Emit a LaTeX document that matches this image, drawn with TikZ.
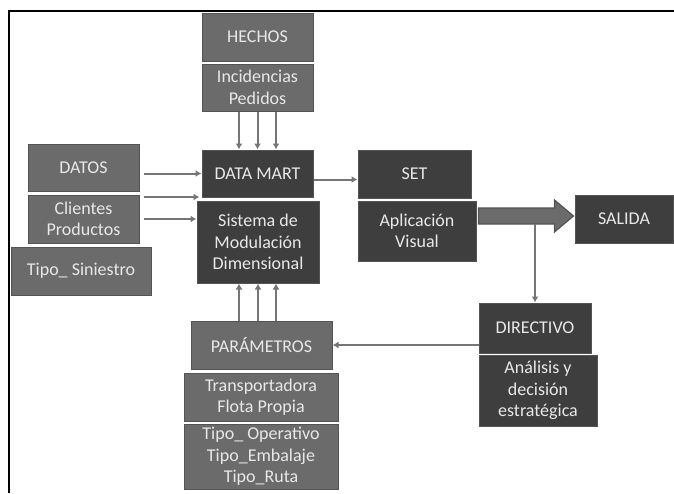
\documentclass[tikz,border=0pt]{standalone}
\usepackage{fontspec}
\setmainfont{Carlito}
\usepackage{tikz}
\usetikzlibrary{arrows.meta,positioning,calc}
\definecolor{boxdark}{HTML}{3E3E3E}
\definecolor{boxmid}{HTML}{6B6B6B}
\definecolor{edgegray}{HTML}{545454}
\definecolor{linegray}{HTML}{767676}
\definecolor{textlight}{HTML}{E8E8E8}
\tikzset{
  darkbox/.style={draw=edgegray,fill=boxdark,line width=1pt,align=center,inner sep=2pt,text=textlight,font=\fontsize{18}{21.5}\selectfont},
  midbox/.style={draw=edgegray,fill=boxmid,line width=1pt,align=center,inner sep=2pt,text=textlight,font=\fontsize{18}{21.5}\selectfont},
  flow/.style={-{Latex[length=6pt,width=7pt]},line width=2pt,draw=linegray},
  blockarrow/.style={draw=edgegray,fill=boxmid,line width=1.2pt,line join=miter},
  frameline/.style={line width=2pt,draw=black},
}

\begin{document}
\begin{tikzpicture}[x=1pt,y=-1pt]
    \useasboundingbox (0,0) rectangle (674,493);
    \draw[frameline] (9,493) -- (9,11) -- (674,11);
    % hechos y data mart
    \node[midbox,minimum width=111pt,minimum height=48pt] (hechos) at (257.5,37) {HECHOS};
    \node[midbox,minimum width=111pt,minimum height=47pt] (incid) at (257.5,87.5) {Incidencias\\Pedidos};
    \node[darkbox,minimum width=111pt,minimum height=47pt] (dm) at (257.5,173.5) {DATA MART};
    \node[darkbox,minimum width=122pt,minimum height=82pt] (sms) at (258,242) {Sistema de\\Modulación\\Dimensional};
    % datos
    \node[midbox,minimum width=111pt,minimum height=47pt] (datos) at (83.5,167.5) {DATOS};
    \node[midbox,minimum width=111pt,minimum height=48pt] (clientes) at (83.5,219) {Clientes\\Productos};
    \node[midbox,minimum width=140pt,minimum height=48pt] (siniestro) at (81,271) {Tipo\_ Siniestro};
    % parametros
    \node[midbox,minimum width=141pt,minimum height=48pt] (param) at (261.5,345) {PARÁMETROS};
    \node[midbox,minimum width=154pt,minimum height=48pt] (transp) at (261,397) {Transportadora\\Flota Propia};
    \node[midbox,minimum width=154pt,minimum height=65pt] (tipos) at (261,456.5) {Tipo\_ Operativo\\Tipo\_Embalaje\\Tipo\_Ruta};
    % set, salida, directivo
    \node[darkbox,minimum width=113pt,minimum height=48pt] (set) at (414.5,174) {SET};
    \node[darkbox,minimum width=118pt,minimum height=60pt] (aplic) at (417,231) {Aplicación\\Visual};
    \node[darkbox,minimum width=98pt,minimum height=48pt] (salida) at (624,219) {SALIDA};
    \node[darkbox,minimum width=112pt,minimum height=50pt] (directivo) at (535,328) {DIRECTIVO};
    \node[darkbox,minimum width=118pt,minimum height=71pt] (analisis) at (538,390.5) {Análisis y\\decisión\\estratégica};

    \foreach \dx in {-18.5,0,18.5}{\draw[flow] ([xshift=\dx pt]incid.south) -- ([xshift=\dx pt]dm.north);}
    \foreach \dx in {-19,0,18}{\draw[flow] ([xshift=\dx pt]sms.south |- param.north) -- ([xshift=\dx pt]sms.south);}
    \draw[flow,shorten <=4pt] (datos.east |- dm.west) -- (dm.west);
    \draw[flow,shorten <=4pt,shorten >=2pt] ([yshift=-5.5pt]datos.south east) -- ([yshift=-5.5pt]datos.south east -| dm.west);
    \draw[flow,shorten <=4pt] (clientes.east) -- (clientes.east -| sms.west);
    \draw[flow] ([yshift=-6pt]dm.east) -- ([yshift=-6pt]dm.east -| set.west);
    \coordinate (ba) at ([xshift=2pt,yshift=15pt]aplic.east);
    \coordinate (bb) at ([yshift=-8pt]ba);
    \draw[blockarrow] (ba) ++(0,-8) -- ++(76,0) -- ++(0,-8) -- ++(19,16) -- ++(-19,16) -- ++(0,-8) -- ++(-76,0) -- cycle;
    \draw[flow] (directivo.north |- bb) -- (directivo.north);
    \draw[flow] (directivo.west |- param.east) -- (param.east);
  \end{tikzpicture}
\end{document}
